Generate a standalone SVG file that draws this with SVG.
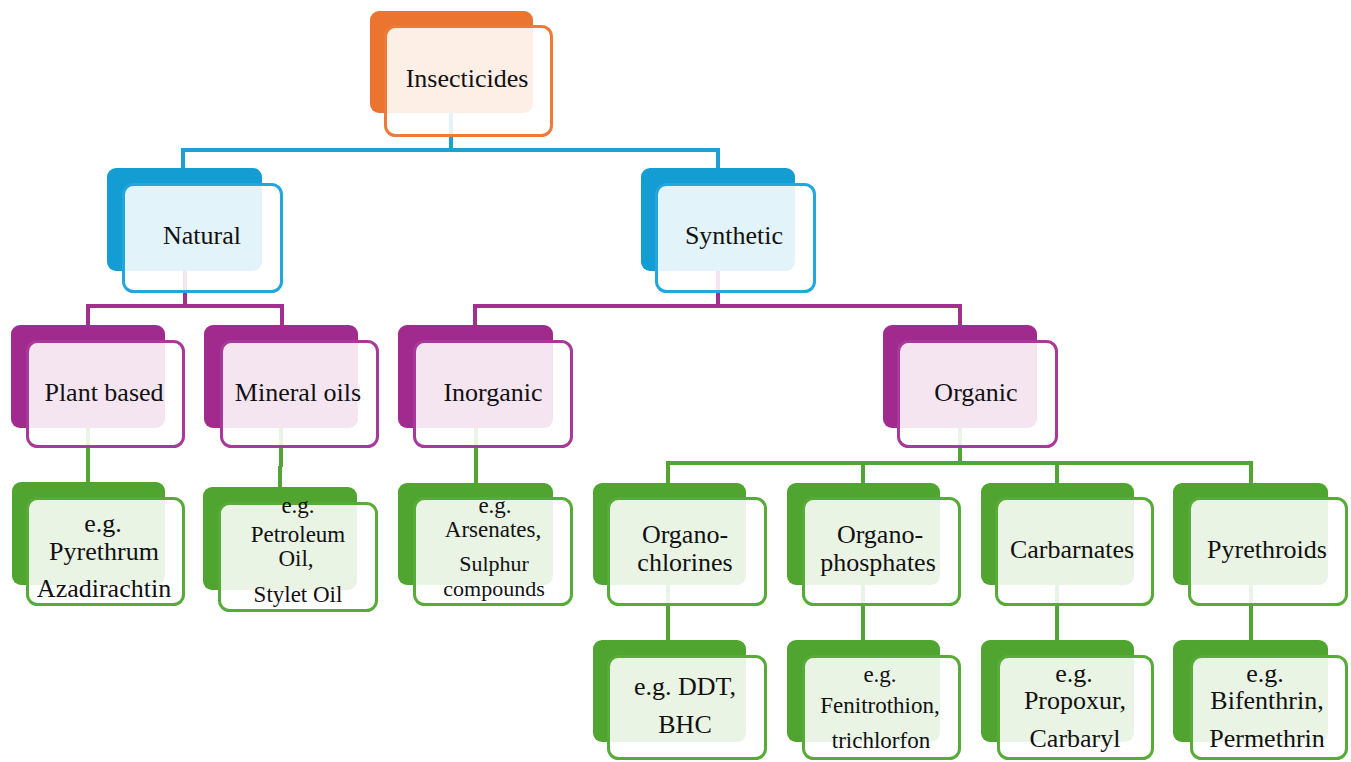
<svg xmlns="http://www.w3.org/2000/svg" width="1351" height="762" viewBox="0 0 1351 762">
<style>
  .bg { fill: #ffffff; }
  .back { stroke: none; }
  .front { fill: #ffffff; fill-opacity: 0.88; stroke-width: 3; }
  .o .back { fill: #ec7431; } .o .front { stroke: #ee7a38; }
  .b .back { fill: #149dd3; } .b .front { stroke: #22a6dd; }
  .p .back { fill: #a02a8e; } .p .front { stroke: #a8389a; }
  .g .back { fill: #4fa52f; } .g .front { stroke: #58ab39; }
  text { font-family: "Liberation Serif", "Times New Roman", serif; fill: #111111; text-anchor: middle; }
  .t26 { font-size: 26px; }
  .t23 { font-size: 23px; }
  .t22 { font-size: 22px; }
  .conn path { fill: none; stroke-width: 4; stroke-linecap: butt; }
  .cb { stroke: #1e9fd5; }
  .cp { stroke: #a3308f; }
  .cg { stroke: #52a535; }
</style>
<rect class="bg" x="0" y="0" width="1351" height="762"/>

<g id="connectors" class="conn">
  <path class="cb" d="M451,113 V150 M183,150 H718 M183,148 V168 M718,148 V168"/>
  <path class="cp" d="M185,271 V306 M88,306 H282 M88,304 V325 M282,304 V325"/>
  <path class="cp" d="M718,271 V306 M475,306 H960 M475,304 V325 M960,304 V325"/>
  <path class="cg" d="M88,428 V482"/>
  <path class="cg" d="M281,428 V467 M280,466 V487"/>
  <path class="cg" d="M476,428 V483"/>
  <path class="cg" d="M960,428 V463 M668,463 H1251 M668,461 V483 M863,461 V483 M1057,461 V483 M1251,461 V483"/>
  <path class="cg" d="M668,585 V640 M863,585 V640 M1057,585 V640 M1251,585 V640"/>
</g>

<g id="n-insecticides" class="o">
  <rect class="back" x="370" y="11" width="163" height="102" rx="9"/>
  <rect class="front" x="385.5" y="26.5" width="166" height="109" rx="10"/>
  <text class="t26" x="467" y="87">Insecticides</text>
</g>

<g id="n-natural" class="b">
  <rect class="back" x="107" y="168" width="155" height="103" rx="9"/>
  <rect class="front" x="123.5" y="184.5" width="158" height="107" rx="10"/>
  <text class="t26" x="202" y="244">Natural</text>
</g>

<g id="n-synthetic" class="b">
  <rect class="back" x="641" y="168" width="154" height="103" rx="9"/>
  <rect class="front" x="656.5" y="184.5" width="158" height="107" rx="10"/>
  <text class="t26" x="734" y="244">Synthetic</text>
</g>

<g id="n-plant" class="p">
  <rect class="back" x="11" y="325" width="154" height="103" rx="9"/>
  <rect class="front" x="27.5" y="341.5" width="156" height="105" rx="10"/>
  <text class="t26" x="104" y="401">Plant based</text>
</g>

<g id="n-mineral" class="p">
  <rect class="back" x="204" y="325" width="154" height="103" rx="9"/>
  <rect class="front" x="221.5" y="341.5" width="156" height="105" rx="10"/>
  <text class="t26" x="298" y="401">Mineral oils</text>
</g>

<g id="n-inorganic" class="p">
  <rect class="back" x="398" y="325" width="155" height="103" rx="9"/>
  <rect class="front" x="414.5" y="341.5" width="157" height="105" rx="10"/>
  <text class="t26" x="493" y="401">Inorganic</text>
</g>

<g id="n-organic" class="p">
  <rect class="back" x="883" y="325" width="154" height="103" rx="9"/>
  <rect class="front" x="898.5" y="341.5" width="158" height="105" rx="10"/>
  <text class="t26" x="976" y="401">Organic</text>
</g>

<g id="n-plant-eg" class="g">
  <rect class="back" x="12" y="482" width="153" height="103" rx="9"/>
  <rect class="front" x="27.5" y="498.5" width="156" height="106" rx="10"/>
  <text class="t26" x="103" y="532">e.g.</text>
  <text class="t26" x="104" y="560">Pyrethrum</text>
  <text class="t26" x="104" y="597">Azadirachtin</text>
</g>

<g id="n-mineral-eg" class="g">
  <rect class="back" x="203" y="487" width="154" height="103" rx="9"/>
  <rect class="front" x="219.5" y="503.5" width="157" height="107" rx="10"/>
  <text class="t23" x="298" y="513">e.g.</text>
  <text class="t23" x="298" y="542">Petroleum</text>
  <text class="t23" x="296" y="566">Oil,</text>
  <text class="t23" x="298" y="602">Stylet Oil</text>
</g>

<g id="n-inorganic-eg" class="g">
  <rect class="back" x="398" y="483" width="155" height="102" rx="9"/>
  <rect class="front" x="414.5" y="498.5" width="157" height="106" rx="10"/>
  <text class="t23" x="495" y="513">e.g.</text>
  <text class="t23" x="493" y="537">Arsenates,</text>
  <text class="t22" x="494" y="571">Sulphur</text>
  <text class="t22" x="494" y="596">compounds</text>
</g>

<g id="n-organochlorines" class="g">
  <rect class="back" x="593" y="483" width="153" height="102" rx="9"/>
  <rect class="front" x="608.5" y="498.5" width="157" height="106" rx="10"/>
  <text class="t26" x="685" y="543">Organo-</text>
  <text class="t26" x="685" y="571">chlorines</text>
</g>

<g id="n-organophosphates" class="g">
  <rect class="back" x="787" y="483" width="153" height="102" rx="9"/>
  <rect class="front" x="803.5" y="498.5" width="156" height="106" rx="10"/>
  <text class="t26" x="880" y="543">Organo-</text>
  <text class="t26" x="878" y="571">phosphates</text>
</g>

<g id="n-carbarnates" class="g">
  <rect class="back" x="981" y="483" width="153" height="102" rx="9"/>
  <rect class="front" x="996.5" y="498.5" width="156" height="106" rx="10"/>
  <text class="t26" x="1072" y="558">Carbarnates</text>
</g>

<g id="n-pyrethroids" class="g">
  <rect class="back" x="1173" y="483" width="155" height="102" rx="9"/>
  <rect class="front" x="1189.5" y="498.5" width="157" height="106" rx="10"/>
  <text class="t26" x="1267" y="558">Pyrethroids</text>
</g>

<g id="n-ddt" class="g">
  <rect class="back" x="593" y="640" width="153" height="102" rx="9"/>
  <rect class="front" x="608.5" y="656.5" width="157" height="102" rx="10"/>
  <text class="t26" x="685" y="695">e.g. DDT,</text>
  <text class="t26" x="685" y="733">BHC</text>
</g>

<g id="n-fenitrothion" class="g">
  <rect class="back" x="787" y="640" width="153" height="102" rx="9"/>
  <rect class="front" x="803.5" y="656.5" width="156" height="102" rx="10"/>
  <text class="t23" x="880" y="682">e.g.</text>
  <text class="t23" x="880" y="713">Fenitrothion,</text>
  <text class="t23" x="881" y="748">trichlorfon</text>
</g>

<g id="n-propoxur" class="g">
  <rect class="back" x="981" y="640" width="153" height="102" rx="9"/>
  <rect class="front" x="998.5" y="656.5" width="154" height="102" rx="10"/>
  <text class="t26" x="1074" y="682">e.g.</text>
  <text class="t26" x="1075" y="709">Propoxur,</text>
  <text class="t26" x="1075" y="747">Carbaryl</text>
</g>

<g id="n-bifenthrin" class="g">
  <rect class="back" x="1173" y="640" width="155" height="102" rx="9"/>
  <rect class="front" x="1191.5" y="656.5" width="155" height="102" rx="10"/>
  <text class="t26" x="1265" y="682">e.g.</text>
  <text class="t26" x="1267" y="709">Bifenthrin,</text>
  <text class="t26" x="1267" y="747">Permethrin</text>
</g>
</svg>
